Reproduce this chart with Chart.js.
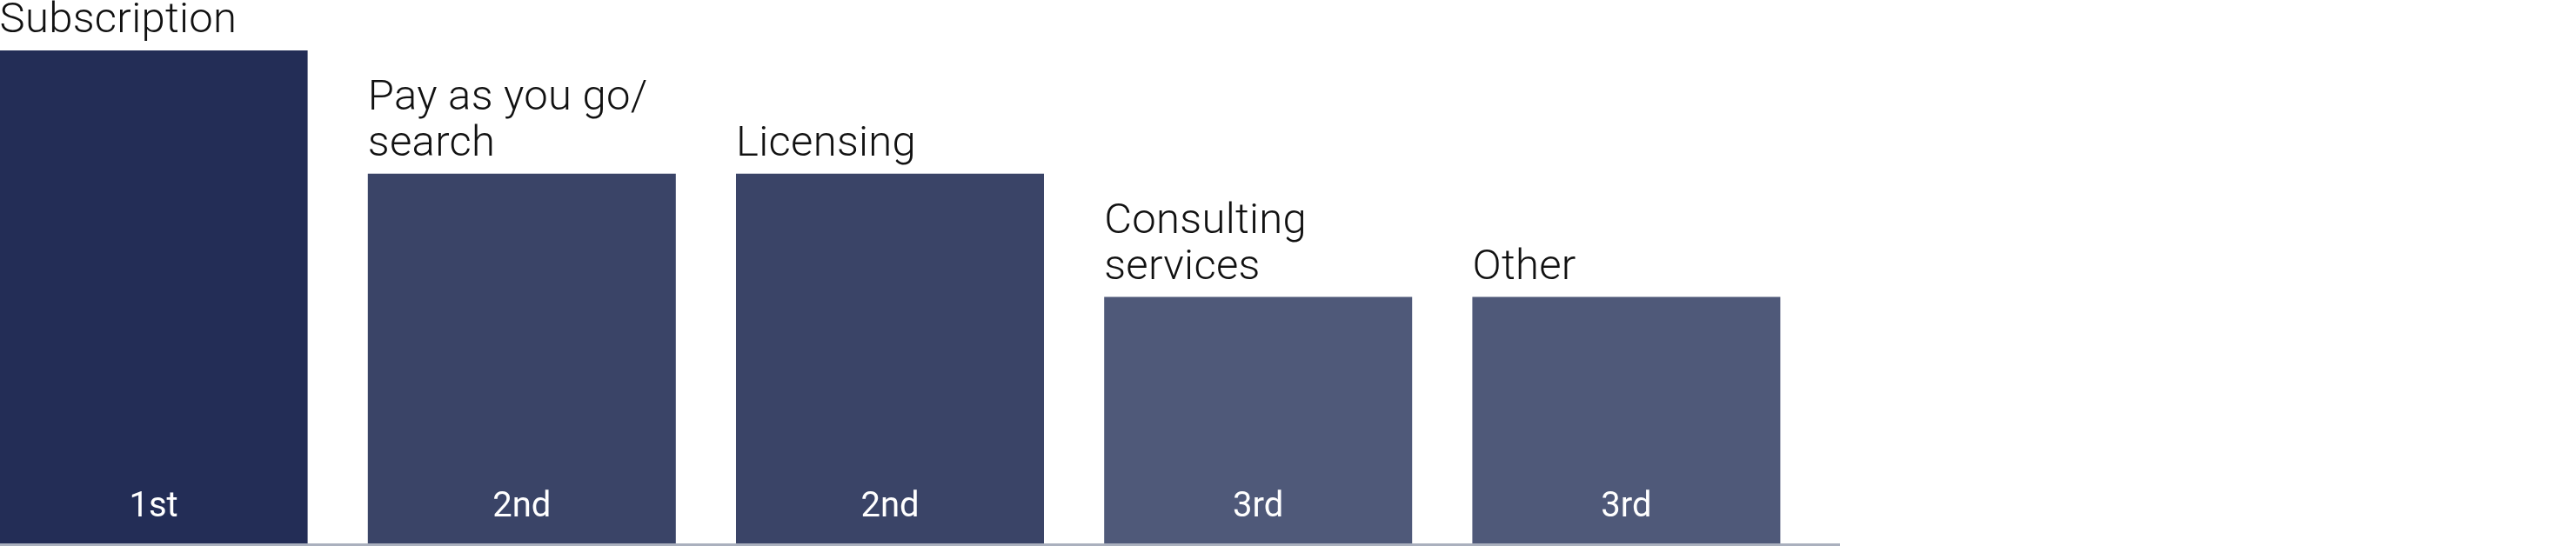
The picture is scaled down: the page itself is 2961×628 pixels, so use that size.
<!DOCTYPE html>
<html lang="en">
<head>
    <meta charset="UTF-8">
    <title>Revenue models</title>
    <style>
        html, body { margin: 0; padding: 0; background: #ffffff; }
        .frame {
            position: relative;
            width: 2115px;
            height: 625px;
            border-bottom: 3px solid #aab0be;
        }
        .chart-box {
            position: absolute;
            left: -35px;
            top: 0;
            width: 2116px;
            height: 625px;
        }
    </style>
</head>
<body>
    <div class="frame">
        <div class="chart-box">
            <canvas id="rankChart"></canvas>
        </div>
    </div>

    <script src="https://cdn.jsdelivr.net/npm/chart.js"></script>
<script>
    // Categories (each entry is the lines of the label above the bar)
    const categories = [
        ['Subscription'],
        ['Pay as you go/', 'search'],
        ['Licensing'],
        ['Consulting', 'services'],
        ['Other']
    ];
    // Bar heights (rank score: 1st = 4, 2nd = 3, 3rd = 2)
    const values = [4, 3, 3, 2, 2];
    const ranks = ['1st', '2nd', '2nd', '3rd', '3rd'];
    const barColors = ['#232d56', '#3a4467', '#3a4467', '#4f5979', '#4f5979'];

    // Draws the category name above each bar and the rank inside it
    const barLabels = {
        id: 'barLabels',
        afterDatasetsDraw(chart) {
            const ctx = chart.ctx;
            const meta = chart.getDatasetMeta(0);
            ctx.save();
            meta.data.forEach((bar, i) => {
                const { x, y, width } = bar.getProps(['x', 'y', 'width'], true);
                const left = x - width / 2;

                ctx.fillStyle = '#111111';
                ctx.font = '300 49px Roboto';
                ctx.textAlign = 'left';
                ctx.textBaseline = 'alphabetic';
                ctx.letterSpacing = '0.3px';
                const lines = categories[i];
                lines.forEach((line, j) => {
                    const fromBottom = lines.length - 1 - j;
                    ctx.fillText(line, left, y - 21 - fromBottom * 53);
                });

                ctx.fillStyle = '#ffffff';
                ctx.font = '400 40px Roboto';
                ctx.textAlign = 'center';
                ctx.letterSpacing = '0px';
                ctx.fillText(ranks[i], x, chart.chartArea.bottom - 31);
            });
            ctx.restore();
        }
    };

    const ctx = document.getElementById('rankChart').getContext('2d');
    const rankChart = new Chart(ctx, {
        type: 'bar',
        data: {
            labels: categories,
            datasets: [{
                data: values,
                backgroundColor: barColors,
                borderWidth: 0,
                categoryPercentage: 1,
                barPercentage: 0.8365
            }]
        },
        options: {
            responsive: true,
            maintainAspectRatio: false,
            devicePixelRatio: 1,
            animation: false,
            layout: { padding: { top: 58, left: 0, right: 0, bottom: 0 } },
            plugins: {
                legend: { display: false },
                tooltip: { enabled: false }
            },
            scales: {
                x: { display: false },
                y: { display: false, min: 0, max: 4 }
            }
        },
        plugins: [barLabels]
    });
</script>

</body>
</html>
